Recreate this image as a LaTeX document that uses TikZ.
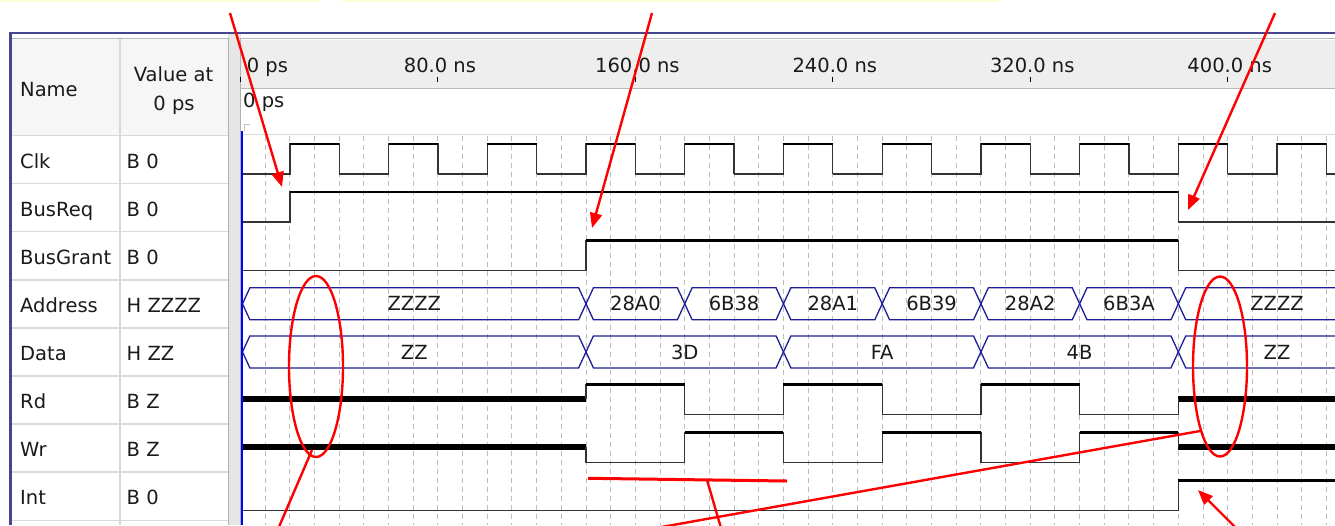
\documentclass[tikz,border=0pt]{standalone}
\usepackage{fontspec}
\setmainfont{DejaVu Sans}
\usetikzlibrary{arrows.meta}
\definecolor{framebl}{HTML}{46468E}
\definecolor{busbl}{HTML}{1E1E94}
\definecolor{gridg}{HTML}{BDBDBD}
\definecolor{rulerbg}{HTML}{EEEEEE}
\definecolor{hdrbg}{HTML}{F6F6F6}
\definecolor{sepg}{HTML}{D9D9D9}
\definecolor{splitg}{HTML}{E6E6E6}
\definecolor{ystrip}{HTML}{FFFFD6}
\definecolor{txt}{HTML}{1A1A1A}
\definecolor{annot}{HTML}{FF0000}
\tikzset{
  griddash/.style={gridg, line width=1pt, dash pattern=on 5pt off 4pt},
  sigthin/.style={black!80, line width=1.3pt, line join=miter},
  sighi/.style={black, line width=2.6pt},
  sigz/.style={black, line width=6pt},
  busln/.style={busbl, line width=1.3pt, line join=miter},
  buslbl/.style={txt, inner sep=0pt, anchor=center},
  namelbl/.style={txt, inner sep=0pt, anchor=base west},
  annotln/.style={annot, line width=2.4pt},
  annotarr/.style={annotln, -{Triangle[length=15pt,width=12pt]}},
  rowsep/.style={sepg, line width=1.5pt},
}
\newcommand\bseg[5]{%
  \draw[busln] (#1,#3) -- ({#1+3},{#3-16}) -- ({#2-3},{#3-16}) -- (#2,#3) -- ({#2-3},{#3+16}) -- ({#1+3},{#3+16}) -- cycle;
  \node[buslbl] (#5) at ({(#1+#2)/2},#3) {#4};}
\begin{document}
\begin{tikzpicture}[x=1pt,y=-1pt,font=\fontsize{19.5}{23}\selectfont]
\useasboundingbox (0,0) rectangle (1335,525);
\clip (0,0) rectangle (1335,525);
\fill[white] (0,0) rectangle (1335,525);
% top yellow strips
\fill[ystrip] (0,0) rectangle (321,2);
\fill[ystrip] (342,0) rectangle (1000,2);
% left panel header
\fill[hdrbg] (11.5,39) rectangle (228,135.5);
% splitter
\fill[splitg] (228,34) rectangle (240.5,525);
\draw[gray!60, line width=1pt] (228,38) -- (228,525);
\draw[gray!60, line width=1pt] (240.5,38) -- (240.5,525);
% top lines
\draw[gray!55, line width=1.3pt] (11.5,38.5) -- (228,38.5);
\draw[gray!55, line width=1.3pt] (240.5,38.5) -- (1335,38.5);
% ruler
\fill[rulerbg] (241,40) rectangle (1335,88);
\draw[gray!55, line width=1pt] (241,88) -- (1335,88);
\draw[gray!30, line width=1pt] (241,134.5) -- (1335,134.5);
% frame
\fill[framebl] (9,31.5) rectangle (1335,34);
\fill[framebl] (9,31.5) rectangle (11.5,525);
% left panel separators
\foreach \yy in {135.5,183.6,231.7,279.8,327.9,376.0,424.1,472.2,520.3}
  \draw[rowsep] (11.5,\yy) -- (228,\yy);
\draw[rowsep] (120,39) -- (120,525);
% header texts
\node[namelbl] (hName) at (20,96.7) {Name};
\node[txt, inner sep=0pt, anchor=base] (hVal1) at (173.5,81.7) {Value at};
\node[txt, inner sep=0pt, anchor=base] (hVal2) at (174,110.7) {0 ps};
% names and values
\foreach \nm/\vl/\yy/\id in {Clk/B 0/168/0, BusReq/B 0/216.1/1, BusGrant/B 0/264.2/2, Address/H ZZZZ/312.3/3, Data/H ZZ/360.4/4, Rd/B Z/408.5/5, Wr/B Z/456.6/6, Int/B 0/504.7/7}{
  \node[namelbl] (name\id) at (20,\yy) {\nm};
  \node[namelbl] (val\id) at (126.5,\yy) {\vl};
}
% time cursor label
\node[namelbl] (cur0) at (243,107) {0 ps};
\draw[gray!50, line width=1pt] (244,131) -- (244,124) -- (250,124);
\begin{scope}[xshift=240.5pt, x=2.468pt, y=-1pt]
  % grid
  \foreach \t in {10,20,...,450} \draw[griddash] (\t,135.5) -- (\t,525);
  % ruler ticks and labels
  \foreach \t in {0,80,...,400} \draw[black, line width=1.1pt] (\t,76.5) -- (\t,82);
  \node[namelbl] (r0) at (2.5,72) {0 ps};
  \foreach \t/\lab in {80/80.0 ns,160/160.0 ns,240/240.0 ns,320/320.0 ns,400/400.0 ns}
    \node[txt, inner sep=0pt, anchor=base, xshift=2pt] (r\t) at (\t,72) {\lab};
  % Clk
  \foreach \k in {0,...,11}{
    \draw[sigthin] ({40*\k},174) -- ({40*\k+20},174) -- ({40*\k+20},144) -- ({40*\k+40},144) -- ({40*\k+40},174);
    \draw[sighi] ({40*\k+20},144) -- ({40*\k+40},144);
  }
  % BusReq
  \draw[sigthin] (0,222.1) -- (20,222.1) -- (20,192.1) -- (380,192.1) -- (380,222.1) -- (470,222.1);
  \draw[sighi] (20,192.1) -- (380,192.1);
  % BusGrant
  \draw[sigthin] (0,270.2) -- (140,270.2) -- (140,240.2) -- (380,240.2) -- (380,270.2) -- (470,270.2);
  \draw[sighi] (140,240.2) -- (380,240.2);
  % Address
  \bseg{0.8}{140}{303.8}{ZZZZ}{aZ1}
  \bseg{140}{180}{303.8}{28A0}{a1}
  \bseg{180}{220}{303.8}{6B38}{a2}
  \bseg{220}{260}{303.8}{28A1}{a3}
  \bseg{260}{300}{303.8}{6B39}{a4}
  \bseg{300}{340}{303.8}{28A2}{a5}
  \bseg{340}{380}{303.8}{6B3A}{a6}
  \bseg{380}{460}{303.8}{ZZZZ}{aZ2}
  % Data
  \bseg{0.8}{140}{351.9}{ZZ}{dZ1}
  \bseg{140}{220}{351.9}{3D}{d1}
  \bseg{220}{300}{351.9}{FA}{d2}
  \bseg{300}{380}{351.9}{4B}{d3}
  \bseg{380}{460}{351.9}{ZZ}{dZ2}
  % Rd
  \draw[sigz] (0,398.5) -- (140,398.5);
  \draw[sigz] (380,398.5) -- (470,398.5);
  \draw[sigthin] (140,398.5) -- (140,384.5) -- (180,384.5) -- (180,414.5) -- (220,414.5) -- (220,384.5) -- (260,384.5) -- (260,414.5) -- (300,414.5) -- (300,384.5) -- (340,384.5) -- (340,414.5) -- (380,414.5) -- (380,398.5);
  \foreach \a/\b in {140/180,220/260,300/340} \draw[sighi] (\a,384.5) -- (\b,384.5);
  % Wr
  \draw[sigz] (0,446.6) -- (140,446.6);
  \draw[sigz] (380,446.6) -- (470,446.6);
  \draw[sigthin] (140,446.6) -- (140,462.6) -- (180,462.6) -- (180,432.6) -- (220,432.6) -- (220,462.6) -- (260,462.6) -- (260,432.6) -- (300,432.6) -- (300,462.6) -- (340,462.6) -- (340,432.6) -- (380,432.6) -- (380,446.6);
  \foreach \a/\b in {180/220,260/300,340/380} \draw[sighi] (\a,432.6) -- (\b,432.6);
  % Int
  \draw[sigthin] (0,510.7) -- (380,510.7) -- (380,480.7) -- (470,480.7);
  \draw[sighi] (380,480.7) -- (470,480.7);
\end{scope}
% time zero cursor
\draw[blue, line width=2pt] (242.3,131) -- (242.3,525);
% annotations
\coordinate (p1s) at (230,13);   \coordinate (p1e) at (282,187);
\coordinate (p2s) at (652,13);   \coordinate (p2e) at (592,228);
\coordinate (p3s) at (1275,13);  \coordinate (p3e) at (1188,210);
\coordinate (p4s) at (1236,528); \coordinate (p4e) at (1198,490);
\draw[annotarr] (p1s) -- (p1e);
\draw[annotarr] (p2s) -- (p2e);
\draw[annotarr] (p3s) -- (p3e);
\draw[annotarr] (p4s) -- (p4e);
\draw[annotln] (316,366.5) ellipse [x radius=27, y radius=90.5];
\draw[annotln] (1220,366.5) ellipse [x radius=27, y radius=90];
\coordinate (l1s) at (312,450);  \coordinate (l1e) at (278.5,528);
\draw[annotln] (l1s) -- (l1e);
\coordinate (hs) at (588,478.3); \coordinate (he) at (787,481);
\draw[annot, line width=3pt] (hs) -- (he);
\coordinate (l2s) at (707,480);  \coordinate (l2e) at (721,528);
\draw[annotln] (l2s) -- (l2e);
\coordinate (l3s) at (1200,431); \coordinate (l3e) at (656,528);
\draw[annotln] (l3s) -- (l3e);
\end{tikzpicture}
\end{document}
